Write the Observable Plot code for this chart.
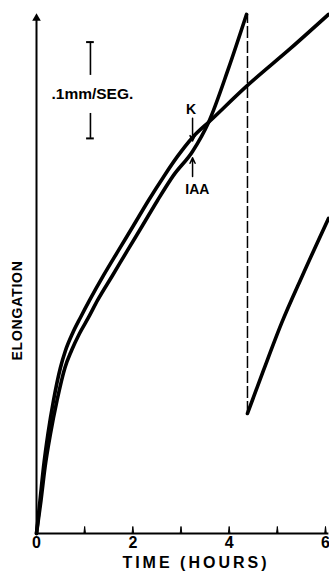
<!DOCTYPE html>
<html>
<head>
<meta charset="utf-8">
<script src="https://cdn.jsdelivr.net/npm/d3@7"></script>
<script src="https://cdn.jsdelivr.net/npm/@observablehq/plot@0.6"></script>
<style>
  html, body { margin: 0; padding: 0; background: #fff; }
  #chart svg { display: block; }
</style>
</head>
<body>
<div id="chart"></div>
<script>
// Time in hours, elongation in mm
const kHours = [0, 0.073, 0.145, 0.239, 0.353, 0.498, 0.602, 0.747, 0.913, 1.100, 1.391, 1.702, 2.014, 2.325, 2.657, 2.927, 3.239, 3.612, 4.380, 5.273, 6.062];
const kElong = [0, 0.0343, 0.0685, 0.1038, 0.1381, 0.1724, 0.1900, 0.2077, 0.2243, 0.2420, 0.2679, 0.2939, 0.3198, 0.3458, 0.3718, 0.3915, 0.4112, 0.4288, 0.4652, 0.5036, 0.5389];

const iaaHours = [0, 0.093, 0.176, 0.291, 0.426, 0.592, 0.727, 0.893, 1.080, 1.266, 1.578, 1.889, 2.201, 2.512, 2.844, 3.239, 3.571, 3.986, 4.360];
const iaaElong = [0, 0.0343, 0.0685, 0.1038, 0.1381, 0.1724, 0.1900, 0.2077, 0.2243, 0.2420, 0.2679, 0.2939, 0.3198, 0.3458, 0.3718, 0.3967, 0.4268, 0.4829, 0.5389];

// IAA trace after recorder reset
const iaaResetHours = [4.380, 4.712, 5.086, 5.522, 6.062];
const iaaResetElong = [0.1246, 0.1693, 0.2181, 0.2679, 0.3271];

const hourTicks = [1, 2, 3, 4, 5, 6];
const hourLabels = [0, 2, 4, 6];

// annotations
const treatmentHour = 3.24;
const kArrow = {from: 0.4310, to: 0.4075};
const iaaArrow = {from: 0.3707, to: 0.3900};
const scaleBar = {hour: 1.12, low: 0.4102, high: 0.5102, gapLow: 0.4361, gapHigh: 0.4756, label: ".1mm/SEG."};
const capHalf = 0.08;

const kSeries = kHours.map((h, i) => ({h, e: kElong[i]}));
const iaaSeries = iaaHours.map((h, i) => ({h, e: iaaElong[i]}));
const iaaResetSeries = iaaResetHours.map((h, i) => ({h, e: iaaResetElong[i]}));

const resetHour = iaaHours[iaaHours.length - 1] + 0.02;
const font = "Liberation Sans, Arial, sans-serif";

const chart = Plot.plot({
  width: 329,
  height: 572,
  marginLeft: 36,
  marginRight: 4,
  marginTop: 10,
  marginBottom: 39,
  style: {background: "#fff", fontFamily: font},
  x: {type: "linear", domain: [0, 6], axis: null},
  y: {type: "linear", domain: [0, 0.543], axis: null},
  marks: [
    // axes
    Plot.ruleY([0], {x1: 0, x2: 6.07, stroke: "black", strokeWidth: 2}),
    Plot.ruleX([0], {y1: 0, y2: 0.535, stroke: "black", strokeWidth: 2}),
    Plot.dot([0.535], {x: 0, y: d => d, symbol: "triangle", r: 3.2, fill: "black", stroke: "none"}),
    Plot.vector(hourTicks, {x: d => d, y: 0, length: 7, rotate: 0, anchor: "start", shape: "spike", r: 0.8, fill: "black", stroke: "black", strokeWidth: 1}),
    Plot.axisX(hourLabels, {tickSize: 0, tickPadding: 3, fontSize: 16, fontWeight: "bold", fontFamily: font, label: null, fill: "black"}),
    Plot.text(["TIME (HOURS)"], {x: 3.31, y: 0, dy: 29, lineAnchor: "middle", fontSize: 16, fontWeight: "bold", fontFamily: font, fill: "black"}),
    Plot.text(["ELONGATION"], {x: 0, y: 0.2316, dx: -19, rotate: -90, lineAnchor: "middle", fontSize: 14, fontWeight: "bold", fontFamily: font, fill: "black"}),

    // scale bar
    Plot.ruleX([scaleBar.hour], {y1: scaleBar.gapHigh, y2: scaleBar.high, stroke: "black", strokeWidth: 1.6}),
    Plot.ruleX([scaleBar.hour], {y1: scaleBar.low, y2: scaleBar.gapLow, stroke: "black", strokeWidth: 1.6}),
    Plot.ruleY([scaleBar.low, scaleBar.high], {y: d => d, x1: scaleBar.hour - capHalf, x2: scaleBar.hour + capHalf, stroke: "black", strokeWidth: 2}),
    Plot.text([scaleBar.label], {x: scaleBar.hour + 0.04, y: (scaleBar.gapLow + scaleBar.gapHigh) / 2, fontSize: 15.5, fontFamily: font, fontWeight: "bold", fill: "black"}),

    // dashed reset line
    Plot.ruleX([resetHour], {y1: iaaResetElong[0], y2: iaaElong[iaaElong.length - 1], stroke: "black", strokeWidth: 1.5, strokeDasharray: "12,3"}),

    // traces
    Plot.line(kSeries, {x: "h", y: "e", stroke: "black", strokeWidth: 3.6, curve: "monotone-x", strokeLinejoin: "round"}),
    Plot.line(iaaSeries, {x: "h", y: "e", stroke: "black", strokeWidth: 3.6, curve: "monotone-x", strokeLinejoin: "round"}),
    Plot.line(iaaResetSeries, {x: "h", y: "e", stroke: "black", strokeWidth: 3.6, curve: "monotone-x", strokeLinejoin: "round"}),

    // treatment arrows and labels
    Plot.arrow([kArrow], {x1: treatmentHour, x2: treatmentHour, y1: "from", y2: "to", stroke: "black", strokeWidth: 1.5, headLength: 6, headAngle: 50}),
    Plot.arrow([iaaArrow], {x1: treatmentHour, x2: treatmentHour, y1: "from", y2: "to", stroke: "black", strokeWidth: 1.5, headLength: 6, headAngle: 50}),
    Plot.text(["K"], {x: treatmentHour - 0.03, y: kArrow.from + 0.009, fontSize: 14, fontWeight: "bold", fontFamily: font, fill: "black"}),
    Plot.text(["IAA"], {x: treatmentHour + 0.1, y: iaaArrow.from - 0.014, fontSize: 14, fontWeight: "bold", fontFamily: font, fill: "black"})
  ]
});
// letter spacing for the axis titles
d3.select(chart).selectAll("text")
  .filter(function () { return this.textContent === "TIME (HOURS)"; })
  .style("letter-spacing", "3px");
d3.select(chart).selectAll("text")
  .filter(function () { return this.textContent === "ELONGATION"; })
  .style("letter-spacing", "0.8px");
document.getElementById("chart").appendChild(chart);
</script>
</body>
</html>
